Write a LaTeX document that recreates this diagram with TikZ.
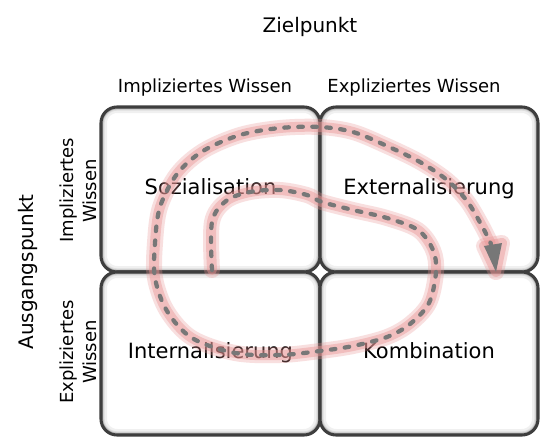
\documentclass[tikz,border=0pt]{standalone}
\usepackage{fontspec}
\setmainfont{DejaVu Sans}
\definecolor{boxline}{HTML}{3E3E3E}
\definecolor{dashgray}{HTML}{777777}
\definecolor{glow}{RGB}{234,150,150}
\tikzset{
  quad/.style={draw=boxline, line width=2.3pt, rounded corners=12pt, fill=white,
    inner sep=0pt, text height=12pt, text depth=4pt,
    font=\fontsize{15.75}{18}\selectfont,
    path picture={
      \draw[black!6, line width=9pt, rounded corners=12pt]
        (path picture bounding box.south west) rectangle (path picture bounding box.north east);
      \draw[black!13, line width=5.5pt, rounded corners=12pt]
        (path picture bounding box.south west) rectangle (path picture bounding box.north east);
      \draw[black!28, line width=3.6pt, rounded corners=12pt]
        (path picture bounding box.south west) rectangle (path picture bounding box.north east);
    }},
  head/.style={font=\fontsize{13.5}{16}\selectfont, anchor=base, inner sep=0pt},
  bighead/.style={font=\fontsize{15}{18}\selectfont, anchor=base, inner sep=0pt},
  glowwide/.style={draw=glow, line width=12pt, opacity=0.3, line cap=round, line join=round},
  glownarrow/.style={draw=glow, line width=7.5pt, opacity=0.45, line cap=round, line join=round},
  dashline/.style={draw=dashgray, line width=3.2pt, line cap=round, dash pattern=on 3.4pt off 7.1pt},
}
\begin{document}
\begin{tikzpicture}[x=0.75pt,y=-0.75pt]
\useasboundingbox (0,0) rectangle (540,437);
\fill[white] (0,0) rectangle (540,437);

% headers
\node[bighead] (ziel) at (310,32) {Zielpunkt};
\node[head] (himp) at (205,92) {Impliziertes Wissen};
\node[head] (hexp) at (414,92) {Expliziertes Wissen};
\node[bighead, rotate=90] (ausg) at (33,272) {Ausgangspunkt};
\node[head, rotate=90] (limp1) at (73,190) {Impliziertes};
\node[head, rotate=90] (limp2) at (96,191) {Wissen};
\node[head, rotate=90] (lexp1) at (73,352) {Expliziertes};
\node[head, rotate=90] (lexp2) at (96,352) {Wissen};

% boxes
\node[quad, minimum width=164.25pt, minimum height=123.75pt] (soz) at (210.5,189.5) {Sozialisation};
\node[quad, minimum width=163.5pt, minimum height=123.75pt] (ext) at (429,189.5) {Externalisierung};
\node[quad, minimum width=164.25pt, minimum height=122.25pt] (int) at (210.5,353.5) {Internailsierung};
\node[quad, minimum width=163.5pt, minimum height=122.25pt] (kom) at (429,353.5) {Kombination};

% spiral
\coordinate (sstart) at (212,270);
\coordinate (send) at (492,246);
\def\spiral{plot[smooth, tension=0.55] coordinates {(212,270) (212,222) (226,201) (250,192) (280,190) (307,195) (322,202) (353,210) (387,218) (418,230) (433,250) (436,272) (429,303) (410,324) (387,337) (353,346) (320,351) (280,355) (235,353) (192,338) (167,311) (155,278) (155,243) (160,207) (177,174) (203,151) (240,135) (280,128) (320,127) (353,132) (387,146) (420,162) (447,180) (467,201) (482,226) (491,244)}}
\draw[glowwide] \spiral;
\draw[glownarrow] \spiral;
\coordinate (ta) at (484,246);
\coordinate (tb) at (502,243);
\coordinate (tc) at (496,272);
\draw[glowwide] (ta) -- (tb) -- (tc) -- cycle;
\draw[glownarrow] (ta) -- (tb) -- (tc) -- cycle;
\draw[dashline] \spiral;
\fill[dashgray] (ta) -- (tb) -- (tc) -- cycle;
\end{tikzpicture}
\end{document}
